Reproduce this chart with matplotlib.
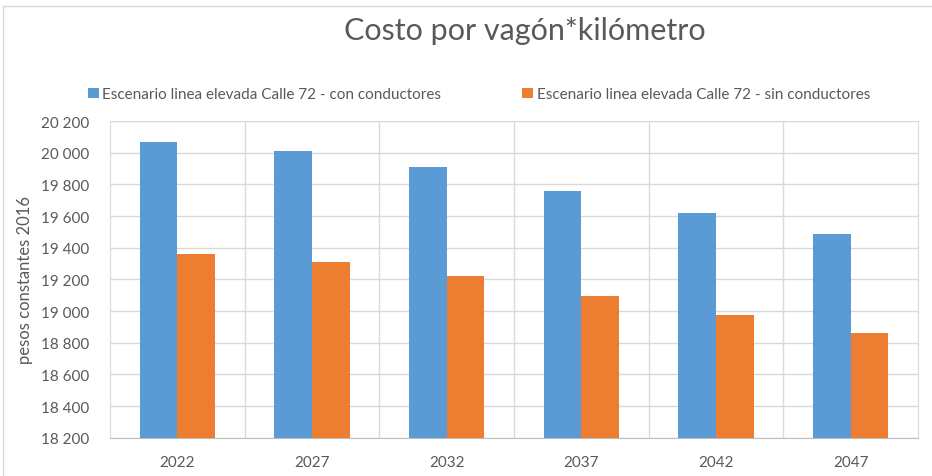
import matplotlib.pyplot as plt
import numpy as np

# Datos
years = ['2022', '2027', '2032', '2037', '2042', '2047']
con_conductores = [20068, 20010, 19912, 19760, 19618, 19486]
sin_conductores = [19360, 19308, 19225, 19095, 18975, 18860]
labels = ['Escenario linea elevada Calle 72 - con conductores',
          'Escenario linea elevada Calle 72 - sin conductores']
yticks = list(range(18200, 20201, 200))

plt.rcParams['font.family'] = ['Lato', 'DejaVu Sans']
grey = '#595959'

fig = plt.figure(figsize=(9.32, 4.77), dpi=100)
ax = fig.add_axes([0.118, 0.08, 0.867, 0.664])

x = np.arange(len(years))
w = 0.28
ax.bar(x - w / 2, con_conductores, w, color='#5b9bd5', label=labels[0], zorder=3)
ax.bar(x + w / 2, sin_conductores, w, color='#ed7d31', label=labels[1], zorder=3)

ax.set_xlim(-0.5, len(years) - 0.5)
ax.set_ylim(18200, 20200)
ax.set_yticks(yticks)
ax.set_yticklabels([f'{v:,}'.replace(',', ' ') for v in yticks])
ax.set_xticks(x)
ax.set_xticklabels(years)
ax.tick_params(axis='both', length=0, colors=grey, labelsize=11)
ax.tick_params(axis='x', pad=12)
ax.tick_params(axis='y', pad=15)

# rejilla
ax.grid(axis='y', color='#d9d9d9', linewidth=1, zorder=0)
for b in np.arange(0.5, len(years) - 0.5, 1):
    ax.axvline(b, color='#d9d9d9', linewidth=1, zorder=0)
for s in ['top', 'right', 'left']:
    ax.spines[s].set_color('#d9d9d9')
ax.spines['bottom'].set_color('#bfbfbf')

ax.set_ylabel('pesos constantes 2016', color=grey, fontsize=12, labelpad=6)

fig.text(0.563, 0.935, 'Costo por vagón*kilómetro', ha='center', va='center',
         fontsize=22, color=grey)
fig.legend(loc='center', bbox_to_anchor=(0.514, 0.80), ncol=2, frameon=False,
           fontsize=11, labelcolor=grey, handlelength=0.7, handleheight=0.7,
           handletextpad=0.25, columnspacing=5.3)

# borde del gráfico
fig.add_artist(plt.Line2D([0.003, 1], [0.985, 0.985], color='#d9d9d9', lw=1))
fig.add_artist(plt.Line2D([0.003, 0.003], [0, 0.985], color='#d9d9d9', lw=1))

plt.savefig('out.png', dpi=100)
